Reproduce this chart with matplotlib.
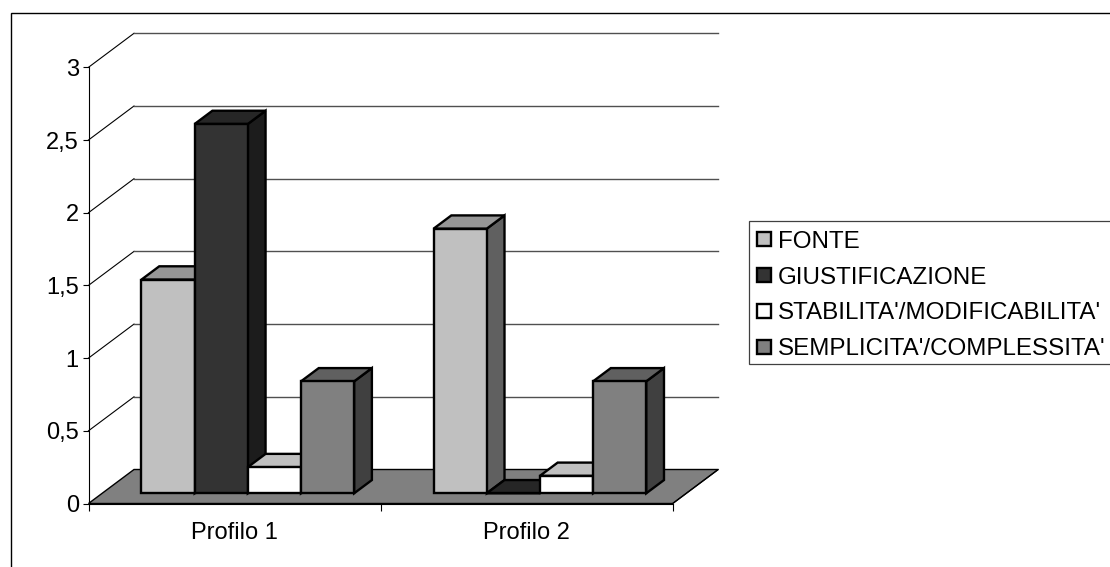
import matplotlib
matplotlib.use("Agg")
import matplotlib.pyplot as plt
from matplotlib.patches import Polygon, Rectangle

categories = ["Profilo 1", "Profilo 2"]
series_names = ["FONTE", "GIUSTIFICAZIONE", "STABILITA'/MODIFICABILITA'", "SEMPLICITA'/COMPLESSITA'"]
fonte = [1.47, 1.82]
giustificazione = [2.54, 0.0]
stabilita = [0.18, 0.12]
semplicita = [0.77, 0.77]
y_ticks = [0, 0.5, 1, 1.5, 2, 2.5, 3]
y_labels = ["0", "0,5", "1", "1,5", "2", "2,5", "3"]

# (front, top, side) shades per series
shades = [
    ("#c0c0c0", "#969696", "#606060"),
    ("#333333", "#262626", "#1c1c1c"),
    ("#ffffff", "#c0c0c0", "#808080"),
    ("#808080", "#606060", "#404040"),
]

W, H = 1110, 567
FONT = 17.0
LEGEND_FONT = 17.4
plt.rcParams["font.family"] = ["Liberation Sans", "DejaVu Sans"]

fig = plt.figure(figsize=(W / 100, H / 100), dpi=100)
ax = fig.add_axes([88.5 / W, 1 - 503.5 / H, 584.2 / W, 436.2 / H])
ax.set_xlim(0, 2)
ax.set_ylim(0, 3)

# oblique projection: depth d in 0..1 shifts a point right and up
DEPTH_X = 45.5 / 292.1
DEPTH_Y = 34 / 145.4


def proj(x, y, d):
    return (x + d * DEPTH_X, y + d * DEPTH_Y)


# floor
ax.add_patch(Polygon([proj(0, 0, 0), proj(2, 0, 0), proj(2, 0, 1), proj(0, 0, 1)],
                     facecolor="#808080", edgecolor="black", lw=1.0, clip_on=False, zorder=1))

# back wall gridlines and their diagonals on the side wall
for t in y_ticks[1:]:
    ax.plot(*zip(proj(0, t, 0), proj(0, t, 1)), color="black", lw=0.8, clip_on=False, zorder=2)
    ax.plot(*zip(proj(0, t, 1), proj(2, t, 1)), color="#505050", lw=1.0, clip_on=False, zorder=2)
ax.plot(*zip(proj(2, 0, 0), proj(2, 0, 1)), color="black", lw=0.8, clip_on=False, zorder=2)

# bars sit between these depths
D0, D1 = 0.3, 0.69
BAR_W = 0.182
GROUP_START = 0.1347


def draw_bar(x0, value, colors, z):
    x1 = x0 + BAR_W
    front, top, side = colors
    style = dict(edgecolor="black", lw=1.7, joinstyle="miter", clip_on=False, zorder=z)
    ax.add_patch(Polygon([proj(x1, 0, D0), proj(x1, 0, D1), proj(x1, value, D1), proj(x1, value, D0)],
                         facecolor=side, **style))
    ax.add_patch(Polygon([proj(x0, value, D0), proj(x1, value, D0), proj(x1, value, D1), proj(x0, value, D1)],
                         facecolor=top, **style))
    ax.add_patch(Polygon([proj(x0, 0, D0), proj(x1, 0, D0), proj(x1, value, D0), proj(x0, value, D0)],
                         facecolor=front, **style))


all_series = [fonte, giustificazione, stabilita, semplicita]
z = 3
for c in range(len(categories)):
    for s, values in enumerate(all_series):
        draw_bar(c + GROUP_START + s * BAR_W, values[c], shades[s], z)
        z += 1

# axes
for name in ("top", "right"):
    ax.spines[name].set_visible(False)
for name in ("left", "bottom"):
    ax.spines[name].set_linewidth(0.8)
    ax.spines[name].set_zorder(2)
ax.set_yticks(y_ticks)
ax.set_yticklabels(y_labels, fontsize=FONT)
ax.set_xticks([0, 1, 2])
ax.set_xticklabels([])
ax.set_xticks([0.5, 1.5], minor=True)
ax.set_xticklabels(categories, minor=True, fontsize=FONT)
ax.tick_params(axis="y", length=4, width=0.8, pad=3)
ax.tick_params(axis="x", which="major", length=5, width=0.8)
ax.tick_params(axis="x", which="minor", length=0, pad=13)

# outer frame
fig.add_artist(Rectangle((10.5 / W, -0.02), 1.1, 1 - 12.5 / H + 0.02, transform=fig.transFigure,
                         facecolor="none", edgecolor="black", lw=1.0))

# legend
fig.add_artist(Rectangle((748.5 / W, 1 - 364 / H), 0.5, 143.3 / H, transform=fig.transFigure,
                         facecolor="white", edgecolor="#404040", lw=0.9))
for i, name in enumerate(series_names):
    yc = 239.3 + i * 35.8
    fig.add_artist(Rectangle((756.5 / W, 1 - (yc + 7) / H), 14 / W, 14 / H, transform=fig.transFigure,
                             facecolor=shades[i][0], edgecolor="black", lw=1.7))
    fig.text(777.5 / W, 1 - yc / H, name, fontsize=LEGEND_FONT, va="center_baseline", ha="left")

fig.savefig("out.png", dpi=100)
